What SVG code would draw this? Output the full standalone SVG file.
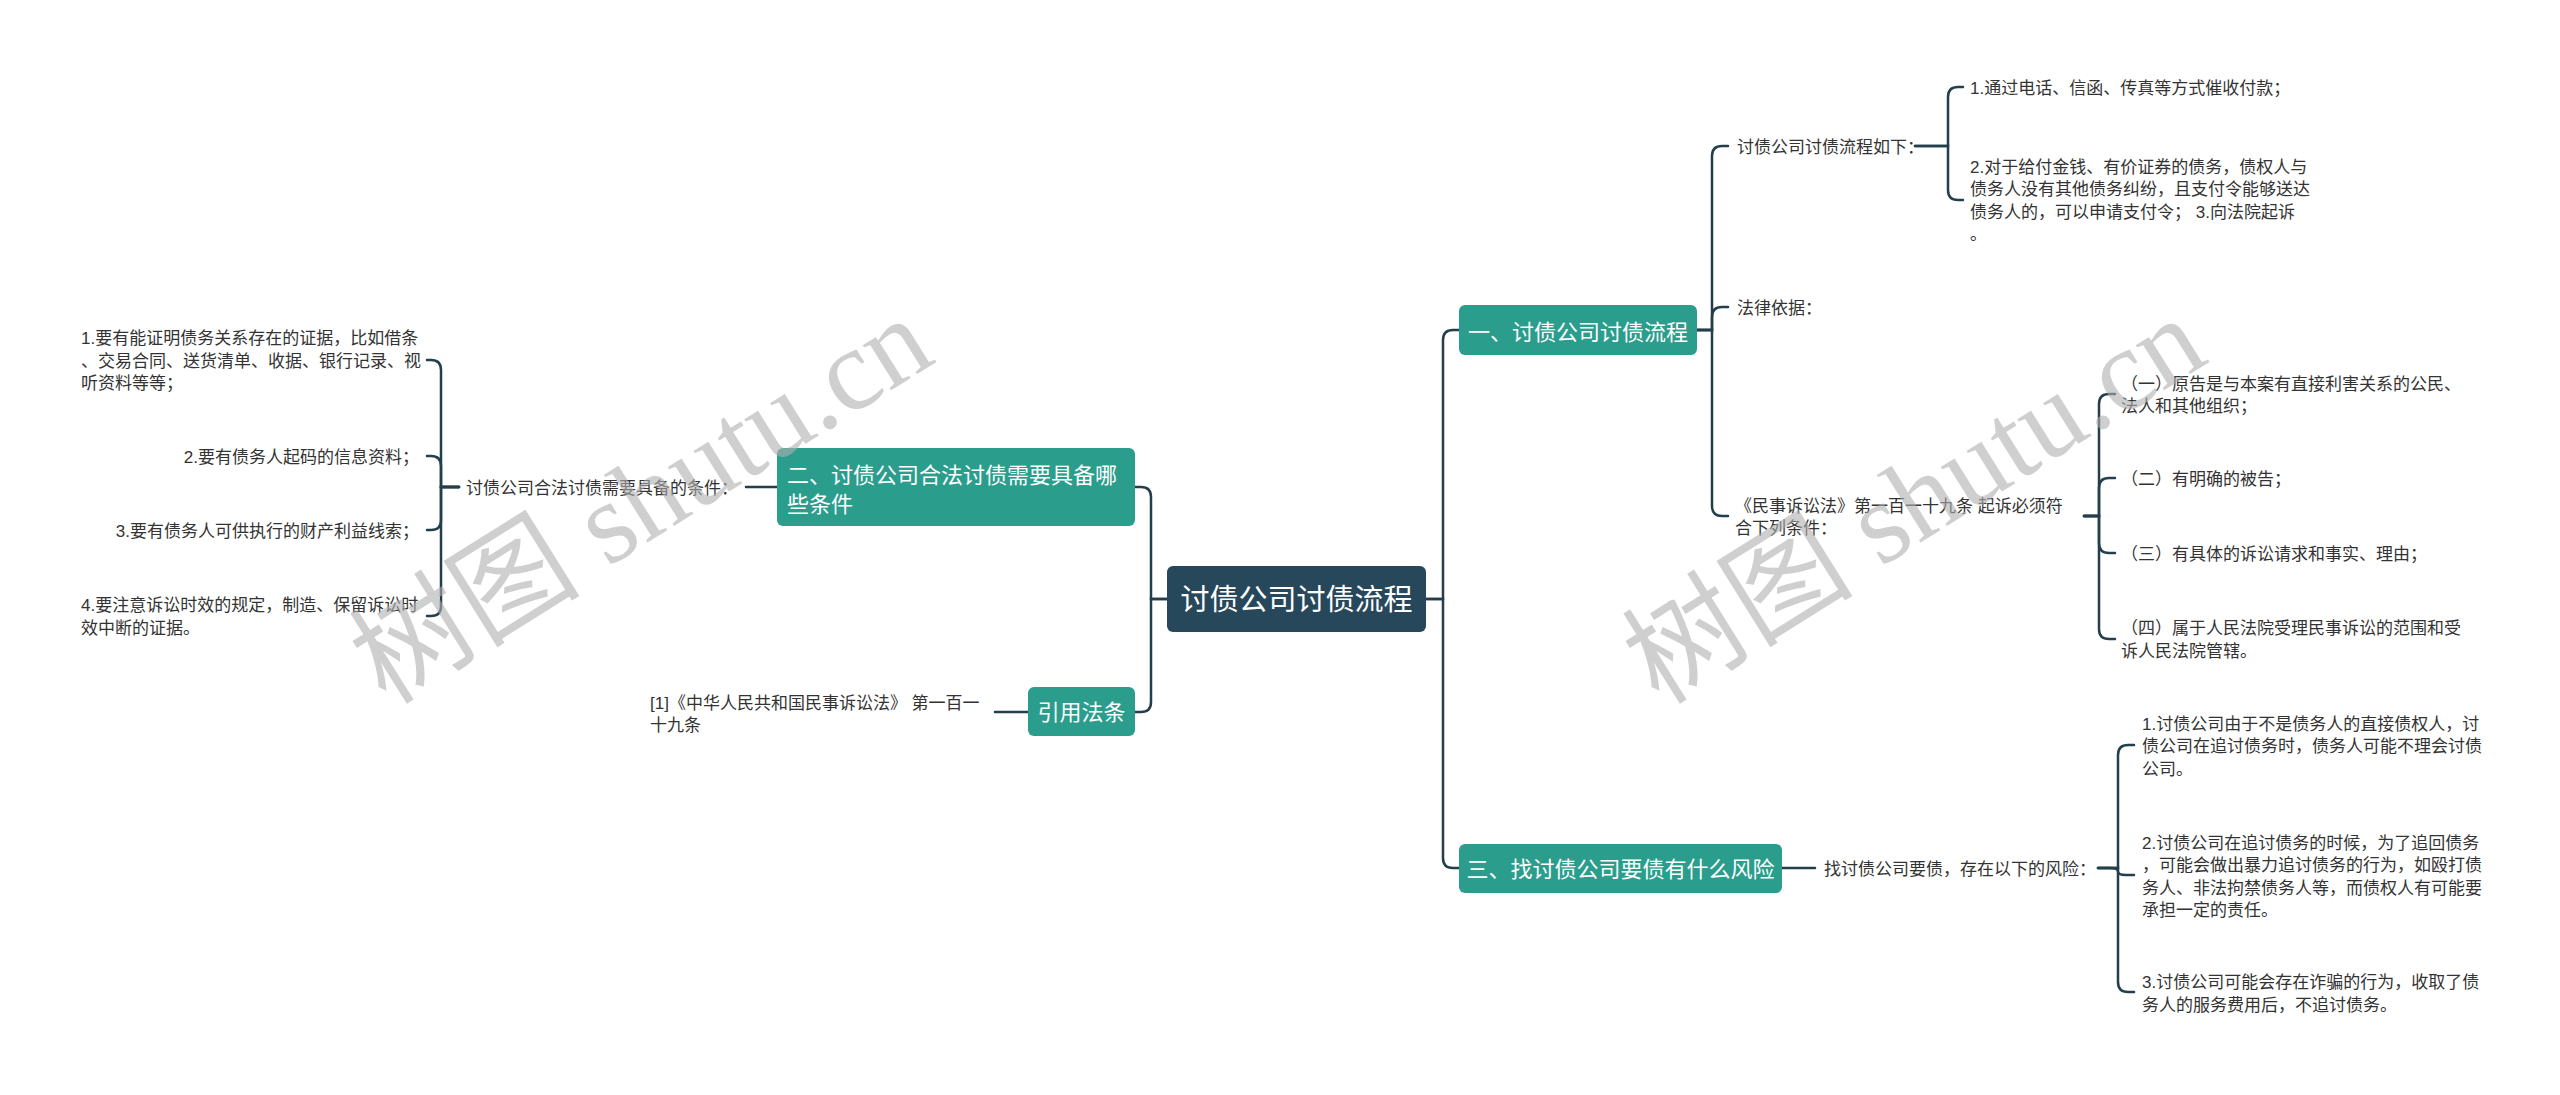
<svg xmlns="http://www.w3.org/2000/svg" width="2560" height="1095" viewBox="0 0 2560 1095">
<style>
.conn{fill:none;stroke:#233f4c;stroke-width:2.5;stroke-linecap:round}
.t{font-family:"Liberation Sans","Noto Sans CJK SC",sans-serif;font-size:17px;fill:#333}
.nt{font-family:"Liberation Sans","Noto Sans CJK SC",sans-serif;font-size:22px;fill:#fff}
.rt{font-family:"Liberation Sans","Noto Sans CJK SC",sans-serif;font-size:29px;fill:#fff}
.teal{fill:#2b9d8c}
.root{fill:#27485a}
.wm{font-family:"Liberation Serif","Noto Sans CJK SC",serif;font-size:116px;fill:#b0b0b0;opacity:0.6}
</style>
<rect width="2560" height="1095" fill="#fff"/>
<g id="connectors">
<path class="conn" d="M1167 599 H1151 V497 Q1151 487 1141 487 H1135"/>
<path class="conn" d="M1167 599 H1151 V702 Q1151 712 1141 712 H1135"/>
<path class="conn" d="M1426 599 H1443 V340 Q1443 330 1453 330 H1459"/>
<path class="conn" d="M1426 599 H1443 V858 Q1443 868 1453 868 H1459"/>
<path class="conn" d="M1697 330 H1712 V156 Q1712 146 1722 146 H1728"/>
<path class="conn" d="M1697 330 H1712 V317 Q1712 307 1722 307 H1728"/>
<path class="conn" d="M1697 330 H1712 V506 Q1712 516 1722 516 H1728"/>
<path class="conn" d="M1915 146 H1948 V97 Q1948 87 1958 87 H1963"/>
<path class="conn" d="M1915 146 H1948 V190 Q1948 200 1958 200 H1963"/>
<path class="conn" d="M2084 516 H2099 V404 Q2099 394 2109 394 H2115"/>
<path class="conn" d="M2084 516 H2099 V488 Q2099 478 2109 478 H2115"/>
<path class="conn" d="M2084 516 H2099 V543 Q2099 553 2109 553 H2115"/>
<path class="conn" d="M2084 516 H2099 V629 Q2099 639 2109 639 H2115"/>
<path class="conn" d="M1782 868 H1815"/>
<path class="conn" d="M2098 868 H2118 V755 Q2118 745 2128 745 H2134"/>
<path class="conn" d="M2098 868 H2110 Q2118 868 2118 871.5 Q2118 875 2126 875 H2134"/>
<path class="conn" d="M2098 868 H2118 V982 Q2118 992 2128 992 H2134"/>
<path class="conn" d="M777 487 H746"/>
<path class="conn" d="M459 487 H441 V370 Q441 360 431 360 H427"/>
<path class="conn" d="M459 487 H441 V466 Q441 456 431 456 H427"/>
<path class="conn" d="M459 487 H441 V520 Q441 530 431 530 H427"/>
<path class="conn" d="M459 487 H441 V606 Q441 616 431 616 H427"/>
<path class="conn" d="M1028 712 H995"/>
</g>
<g id="root">
<rect class="root" x="1167" y="566" width="259" height="66" rx="6"/>
<text class="rt" x="1296.5" y="610" text-anchor="middle">讨债公司讨债流程</text>
</g>
<g id="n1">
<rect class="teal" x="1459" y="305" width="238" height="50" rx="6"/>
<text class="nt" x="1578" y="340" text-anchor="middle">一、讨债公司讨债流程</text>
</g>
<g id="n1a"><text class="t" x="1737" y="152.5">讨债公司讨债流程如下：</text></g>
<g id="n1a1"><text class="t" x="1970" y="93.5">1.通过电话、信函、传真等方式催收付款；</text></g>
<g id="n1a2"><text class="t" x="1970" y="172.5">2.对于给付金钱、有价证券的债务，债权人与<tspan x="1970" y="195">债务人没有其他债务纠纷，且支付令能够送达</tspan><tspan x="1970" y="217.5">债务人的，可以申请支付令； 3.向法院起诉</tspan><tspan x="1970" y="240">。</tspan></text></g>
<g id="n1b"><text class="t" x="1737" y="314">法律依据：</text></g>
<g id="n1c"><text class="t" x="1735" y="511.5">《民事诉讼法》第一百一十九条 起诉必须符<tspan x="1735" y="534">合下列条件：</tspan></text></g>
<g id="n1c1"><text class="t" x="2121" y="389.5">（一）原告是与本案有直接利害关系的公民、<tspan x="2121" y="412">法人和其他组织；</tspan></text></g>
<g id="n1c2"><text class="t" x="2121" y="484.5">（二）有明确的被告；</text></g>
<g id="n1c3"><text class="t" x="2121" y="559.5">（三）有具体的诉讼请求和事实、理由；</text></g>
<g id="n1c4"><text class="t" x="2121" y="634">（四）属于人民法院受理民事诉讼的范围和受<tspan x="2121" y="656.5">诉人民法院管辖。</tspan></text></g>
<g id="n3">
<rect class="teal" x="1459" y="844" width="323" height="49" rx="6"/>
<text class="nt" x="1620.5" y="876.5" text-anchor="middle">三、找讨债公司要债有什么风险</text>
</g>
<g id="n3a"><text class="t" x="1824" y="874.5">找讨债公司要债，存在以下的风险：</text></g>
<g id="n3a1"><text class="t" x="2142" y="729.5">1.讨债公司由于不是债务人的直接债权人，讨<tspan x="2142" y="752">债公司在追讨债务时，债务人可能不理会讨债</tspan><tspan x="2142" y="774.5">公司。</tspan></text></g>
<g id="n3a2"><text class="t" x="2142" y="848.5">2.讨债公司在追讨债务的时候，为了追回债务<tspan x="2142" y="871">，可能会做出暴力追讨债务的行为，如殴打债</tspan><tspan x="2142" y="893.5">务人、非法拘禁债务人等，而债权人有可能要</tspan><tspan x="2142" y="916">承担一定的责任。</tspan></text></g>
<g id="n3a3"><text class="t" x="2142" y="988">3.讨债公司可能会存在诈骗的行为，收取了债<tspan x="2142" y="1010.5">务人的服务费用后，不追讨债务。</tspan></text></g>
<g id="n2">
<rect class="teal" x="777" y="448" width="358" height="78" rx="6"/>
<text class="nt" x="787" y="482.5">二、讨债公司合法讨债需要具备哪<tspan x="787" y="511.5">些条件</tspan></text>
</g>
<g id="n2a"><text class="t" x="466" y="493.5">讨债公司合法讨债需要具备的条件：</text></g>
<g id="n2a1"><text class="t" x="81" y="344">1.要有能证明债务关系存在的证据，比如借条<tspan x="81" y="366.5">、交易合同、送货清单、收据、银行记录、视</tspan><tspan x="81" y="389">听资料等等；</tspan></text></g>
<g id="n2a2"><text class="t" x="419" y="462.5" text-anchor="end">2.要有债务人起码的信息资料；</text></g>
<g id="n2a3"><text class="t" x="419" y="536.5" text-anchor="end">3.要有债务人可供执行的财产利益线索；</text></g>
<g id="n2a4"><text class="t" x="81" y="611">4.要注意诉讼时效的规定，制造、保留诉讼时<tspan x="81" y="633.5">效中断的证据。</tspan></text></g>
<g id="n4">
<rect class="teal" x="1028" y="687" width="107" height="49" rx="6"/>
<text class="nt" x="1081.5" y="720" text-anchor="middle">引用法条</text>
</g>
<g id="n4a"><text class="t" x="650" y="708.5">[1]《中华人民共和国民事诉讼法》 第一百一<tspan x="650" y="731">十九条</tspan></text></g>
<g id="watermarks">
<text class="wm" transform="translate(386 706) rotate(-32)">树图 shutu.cn</text>
<text class="wm" transform="translate(1659 706) rotate(-32)">树图 shutu.cn</text>
</g>
</svg>
